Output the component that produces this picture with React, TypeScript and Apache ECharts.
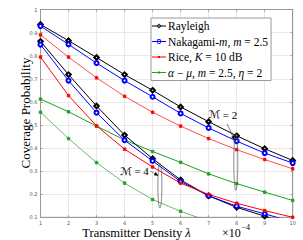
import React, { useEffect, useRef } from "react";
import * as echarts from "echarts";

const xValues = [1, 2, 3, 4, 5, 6, 7, 8, 9, 10];
const rayleighM2 = [0.935, 0.865, 0.792, 0.718, 0.65, 0.578, 0.514, 0.453, 0.397, 0.346];
const nakagamiM2 = [0.928, 0.849, 0.768, 0.692, 0.622, 0.55, 0.487, 0.43, 0.378, 0.335];
const riceM2 = [0.89, 0.794, 0.704, 0.624, 0.555, 0.495, 0.441, 0.393, 0.35, 0.31];
const alphaMuM2 = [0.612, 0.557, 0.495, 0.435, 0.385, 0.338, 0.288, 0.246, 0.209, 0.173];
const rayleighM4 = [0.862, 0.718, 0.582, 0.456, 0.354, 0.262, 0.193, 0.143, 0.105, 0.065];
const nakagamiM4 = [0.848, 0.692, 0.553, 0.434, 0.344, 0.255, 0.193, 0.148, 0.115, 0.08];
const riceM4 = [0.794, 0.627, 0.496, 0.395, 0.318, 0.248, 0.199, 0.161, 0.129, 0.1];
const alphaMuM4 = [0.555, 0.441, 0.337, 0.248, 0.177, 0.126, 0.083, 0.06, 0.045, 0.035];
const yTicks = [0.1, 0.2, 0.3, 0.4, 0.5, 0.6, 0.7, 0.8, 0.9, 1];

const SERIF = "'Liberation Serif', 'DejaVu Serif', serif";

const legendLabels: Record<string, string> = {
  Rayleigh: "Rayleigh",
  Nakagami: "Nakagami-{i|m}, {i|m} = 2.5",
  Rice: "Rice, {i|K} = 10 dB",
  AlphaMu: "{i|α} − {i|μ}, {i|m} = 2.5, {i|η} = 2",
};

const BAR = "M0,2.1H14V2.9H0Z ";
const legendIcons: Record<string, string> = {
  Rayleigh: "path://" + BAR + "M7,0L9.5,2.5L7,5L4.5,2.5Z M7,0.9L5.4,2.5L7,4.1L8.6,2.5Z",
  Nakagami:
    "path://" + BAR + "M4.6,2.5A2.4,2.4 0 1,1 9.4,2.5A2.4,2.4 0 1,1 4.6,2.5Z M5.4,2.5A1.6,1.6 0 1,0 8.6,2.5A1.6,1.6 0 1,0 5.4,2.5Z",
  Rice: "path://" + BAR + "M6,1.5H8V3.5H6Z",
  AlphaMu: "path://" + BAR + "M6,1.5H8V3.5H6Z",
};

const BLACK = "#000000";
const BLUE = "#0000ff";
const RED = "#ff0000";
const GREEN = "#22a022";

function mk(name: string, data: number[], color: string, symbol: string, size: number, width: number) {
  return {
    name,
    type: "line",
    data: xValues.map((x, i) => [x, data[i]]),
    symbol,
    symbolSize: size,
    showSymbol: true,
    clip: true,
    lineStyle: { color, width },
    itemStyle: { color, borderColor: color, borderWidth: 0.9 },
    emphasis: { disabled: true },
    z: 3,
  };
}

export default function App() {
  const ref = useRef<HTMLDivElement>(null);
  useEffect(() => {
    if (!ref.current) return;
    const chart = echarts.init(ref.current, undefined, { renderer: "svg" });
    const axisCommon = {
      type: "value",
      min: 1,
      max: 10,
      interval: 1,
    };
    chart.setOption({
      animation: false,
      backgroundColor: "#ffffff",
      grid: { left: 40.5, top: 9.5, width: 252.2, height: 207.8, show: true, borderColor: "#999", borderWidth: 1 },
      xAxis: [
        {
          ...axisCommon,
          position: "bottom",
          axisLine: { lineStyle: { color: "#999", width: 1 } },
          axisTick: { inside: true, length: 2, lineStyle: { color: "#999" } },
          axisLabel: { fontSize: 5, color: "#555", margin: 3, fontFamily: "'DejaVu Sans', sans-serif" },
          splitLine: { show: true, lineStyle: { color: "#e8e8e8", width: 1 } },
        },
        {
          ...axisCommon,
          position: "top",
          axisLine: { lineStyle: { color: "#999", width: 1 } },
          axisTick: { inside: true, length: 2, lineStyle: { color: "#999" } },
          axisLabel: { show: false },
          splitLine: { show: false },
        },
      ],
      yAxis: [
        {
          type: "value",
          min: 0.1,
          max: 1,
          interval: 0.1,
          position: "left",
          axisLine: { show: true, lineStyle: { color: "#999", width: 1 } },
          axisTick: { show: true, inside: true, length: 2, lineStyle: { color: "#999" } },
          axisLabel: {
            fontSize: 5,
            color: "#555",
            margin: 3,
            fontFamily: "'DejaVu Sans', sans-serif",
            formatter: (v: number) => {
              const t = yTicks.find((k) => Math.abs(k - v) < 1e-6);
              return t === 1 ? "1" : (t ?? v).toFixed(1);
            },
          },
          splitLine: { show: true, lineStyle: { color: "#e8e8e8", width: 1 } },
        },
        {
          type: "value",
          min: 0.1,
          max: 1,
          interval: 0.1,
          position: "right",
          axisLine: { show: true, lineStyle: { color: "#999", width: 1 } },
          axisTick: { show: true, inside: true, length: 2, lineStyle: { color: "#999" } },
          axisLabel: { show: false },
          splitLine: { show: false },
        },
      ],
      legend: {
        left: 151,
        top: 18,
        orient: "vertical",
        itemGap: 3.5,
        itemWidth: 14,
        itemHeight: 5,
        symbolKeepAspect: true,
        padding: [2, 3, 2, 1],
        backgroundColor: "#ffffff",
        borderColor: "#999",
        borderWidth: 1,
        data: ["Rayleigh", "Nakagami", "Rice", "AlphaMu"].map((n) => ({ name: n, icon: legendIcons[n] })),
        formatter: (name: string) => legendLabels[name],
        itemStyle: { borderWidth: 0 },
        textStyle: {
          fontFamily: SERIF,
          fontSize: 11.5,
          color: "#000",
          padding: [0, 0, 0, -3],
          rich: { i: { fontFamily: SERIF, fontSize: 11.5, fontStyle: "italic", color: "#000" } },
        },
        selectedMode: false,
      },
      series: [
        mk("Rayleigh", rayleighM2, BLACK, "emptyDiamond", 4.5, 1),
        mk("Nakagami", nakagamiM2, BLUE, "emptyCircle", 4, 1),
        mk("Rice", riceM2, RED, "rect", 2.5, 0.7),
        mk("AlphaMu", alphaMuM2, GREEN, "rect", 2.5, 1),
        mk("Rayleigh", rayleighM4, BLACK, "emptyDiamond", 4.5, 1),
        mk("Nakagami", nakagamiM4, BLUE, "emptyCircle", 4, 1),
        mk("Rice", riceM4, RED, "rect", 2.5, 1),
        mk("AlphaMu", alphaMuM4, GREEN, "rect", 2.5, 0.7),
      ],
    });

    const p = (x: number, y: number) => chart.convertToPixel({ gridIndex: 0 }, [x, y]) as number[];
    const e2Top = p(7.97, 0.465);
    const e2Bot = p(7.97, 0.217);
    const e4Top = p(5.26, 0.334);
    const e4Bot = p(5.26, 0.14);
    const t2 = p(7.5, 0.545);
    const a2s = p(7.66, 0.505);
    const a2e = p(7.92, 0.435);
    const t4 = p(4.35, 0.3);
    const a4s = p(4.93, 0.3);
    const a4e = p(5.2, 0.28);

    const arrowHead = (s: number[], e: number[]) => {
      const dx = e[0] - s[0];
      const dy = e[1] - s[1];
      const L = Math.hypot(dx, dy) || 1;
      const ux = dx / L, uy = dy / L;
      const h = 4, w = 1.8;
      return [
        [e[0], e[1]],
        [e[0] - ux * h - uy * w, e[1] - uy * h + ux * w],
        [e[0] - ux * h + uy * w, e[1] - uy * h - ux * w],
      ];
    };

    const mStyle = (label: string) => ({
      text: "{i|ℳ} = " + label,
      fontFamily: SERIF,
      fontSize: 11,
      fill: "#000",
      align: "center",
      verticalAlign: "middle",
      rich: { i: { fontFamily: "'DejaVu Sans', serif", fontSize: 11 } },
    });

    chart.setOption({
      graphic: [
        {
          type: "ellipse",
          shape: { cx: e2Top[0], cy: (e2Top[1] + e2Bot[1]) / 2, rx: 2, ry: (e2Bot[1] - e2Top[1]) / 2 },
          style: { fill: "none", stroke: "#555", lineWidth: 0.7 },
          z: 10,
        },
        {
          type: "ellipse",
          shape: { cx: e4Top[0], cy: (e4Top[1] + e4Bot[1]) / 2, rx: 2, ry: (e4Bot[1] - e4Top[1]) / 2 },
          style: { fill: "none", stroke: "#555", lineWidth: 0.7 },
          z: 10,
        },
        { type: "text", x: t2[0], y: t2[1], style: mStyle("2"), z: 11 },
        {
          type: "line",
          shape: { x1: a2s[0], y1: a2s[1], x2: a2e[0], y2: a2e[1] },
          style: { stroke: "#333", lineWidth: 0.6 },
          z: 11,
        },
        { type: "polygon", shape: { points: arrowHead(a2s, a2e) }, style: { fill: "#000" }, z: 11 },
        { type: "text", x: t4[0], y: t4[1], style: mStyle("4"), z: 11 },
        {
          type: "line",
          shape: { x1: a4s[0], y1: a4s[1], x2: a4e[0], y2: a4e[1] },
          style: { stroke: "#333", lineWidth: 0.6 },
          z: 11,
        },
        { type: "polygon", shape: { points: arrowHead(a4s, a4e) }, style: { fill: "#000" }, z: 11 },
        {
          type: "text",
          x: 25,
          y: 113,
          rotation: Math.PI / 2,
          style: {
            text: "Coverage Probability",
            fontFamily: SERIF,
            fontSize: 13,
            fill: "#000",
            align: "center",
            verticalAlign: "middle",
          },
        },
        {
          type: "text",
          x: 136.5,
          y: 232.5,
          style: {
            text: "Transmitter Density {i|λ}",
            fontFamily: SERIF,
            fontSize: 12.5,
            fill: "#000",
            align: "center",
            verticalAlign: "middle",
            rich: { i: { fontFamily: SERIF, fontSize: 12.5, fontStyle: "italic" } },
          },
        },
        {
          type: "text",
          x: 222,
          y: 232.5,
          style: { text: "×10", fontFamily: SERIF, fontSize: 12, fill: "#000", align: "left", verticalAlign: "middle" },
        },
        {
          type: "text",
          x: 241.5,
          y: 227,
          style: { text: "−4", fontFamily: SERIF, fontSize: 8, fill: "#000", align: "left", verticalAlign: "middle" },
        },
      ],
    });
    return () => chart.dispose();
  }, []);
  return <div ref={ref} style={{ width: 303, height: 240, position: "absolute", left: 0, top: 0 }} />;
}
